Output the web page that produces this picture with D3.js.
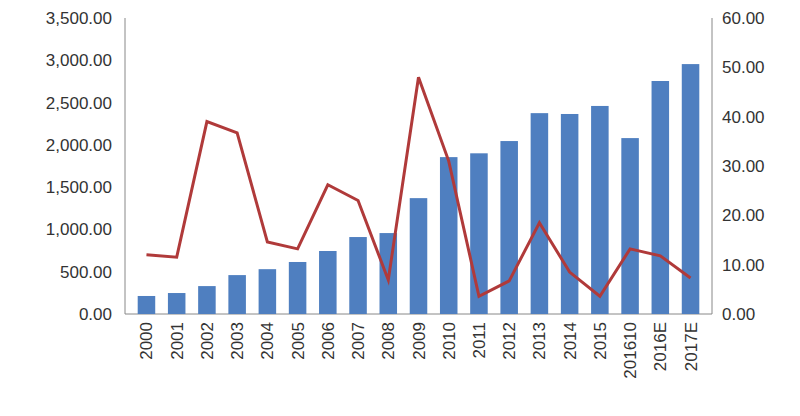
<!DOCTYPE html><html><head><meta charset="utf-8"><script src="https://cdn.jsdelivr.net/npm/d3@7"></script>
<style>body{margin:0;background:#fff}</style></head><body><svg id="c" width="800" height="416"></svg>
<script>
const categories=["2000","2001","2002","2003","2004","2005","2006","2007","2008","2009","2010","2011","2012","2013","2014","2015","201610","2016E","2017E"];
const barValues=[213,248,330,460,530,615,745,910,957,1370,1855,1900,2045,2375,2365,2460,2080,2755,2955];
const lineValues=[12,11.5,39,36.7,14.6,13.2,26.2,23,6.9,48,31,3.6,6.7,18.5,8.5,3.6,13.2,11.8,7.3];
const leftTicks=[0,500,1000,1500,2000,2500,3000,3500];
const rightTicks=[0,10,20,30,40,50,60];
const svg=d3.select("#c");
const x=d3.scaleBand().domain(categories).range([125,712]).padding(0.42);
const yL=d3.scaleLinear().domain([0,3500]).range([314,18]);
const yR=d3.scaleLinear().domain([0,60]).range([314,18]);
const font="Liberation Sans, Arial, sans-serif";
svg.append("line").attr("x1",125).attr("x2",712).attr("y1",314).attr("y2",314).attr("stroke","#888");
svg.append("line").attr("x1",125).attr("x2",125).attr("y1",18).attr("y2",314).attr("stroke","#888");
svg.append("line").attr("x1",712).attr("x2",712).attr("y1",18).attr("y2",314).attr("stroke","#888");
svg.selectAll(".lt").data(leftTicks).join("text").attr("x",112).attr("y",d=>yL(d)+6).attr("text-anchor","end")
 .attr("font-family",font).attr("font-size",17).attr("fill","#333").text(d=>d3.format(",.2f")(d));
svg.selectAll(".rt").data(rightTicks).join("text").attr("x",722).attr("y",d=>yR(d)+6)
 .attr("font-family",font).attr("font-size",17).attr("fill","#333").text(d=>d3.format(".2f")(d));
svg.selectAll(".b").data(barValues).join("rect").attr("x",(d,i)=>x(categories[i])).attr("width",x.bandwidth())
 .attr("y",d=>yL(d)).attr("height",d=>314-yL(d)).attr("fill","#4f7fc0");
svg.append("path").datum(lineValues).attr("fill","none").attr("stroke","#b03a3a").attr("stroke-width",3)
 .attr("d",d3.line().x((d,i)=>x(categories[i])+x.bandwidth()/2).y(d=>yR(d)));
svg.selectAll(".xl").data(categories).join("text")
 .attr("transform",d=>`translate(${x(d)+x.bandwidth()/2+6},322) rotate(-90)`).attr("text-anchor","end")
 .attr("font-family",font).attr("font-size",17).attr("fill","#333").text(d=>d);
</script></body></html>
